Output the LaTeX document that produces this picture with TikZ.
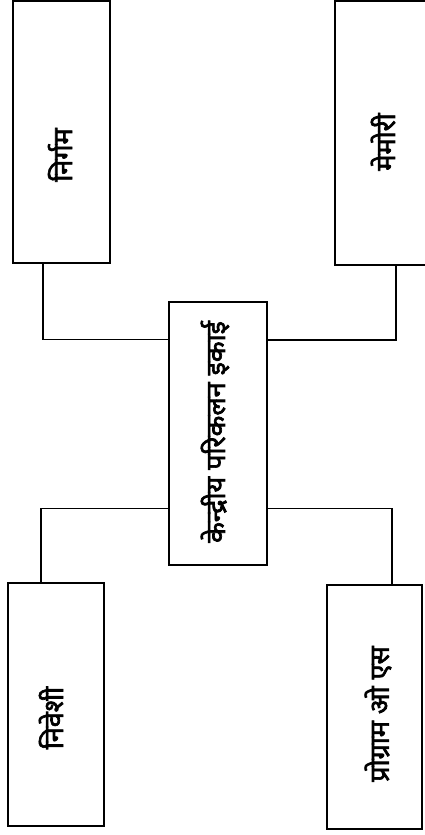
\documentclass[tikz,border=0pt]{standalone}
\usepackage{fontspec}
\newfontfamily\deva[Script=Devanagari,FakeBold=2.5]{Noto Sans}
\begin{document}
\begin{tikzpicture}[x=1pt,y=-1pt,
  box/.style={draw, line width=1.8pt, inner sep=0pt},
  lbl/.style={inner sep=0pt, font=\deva\fontsize{27}{30}\selectfont},
  wire/.style={line width=1.8pt}]
\useasboundingbox (0,0) rectangle (425,835);
\clip (0,0) rectangle (425,835);
% boxes
\node[box, minimum width=97pt, minimum height=262pt] (outbox) at (61.5,132) {};
\node[box, minimum width=105pt, minimum height=264pt] (membox) at (387.5,133) {};
\node[box, minimum width=96pt, minimum height=243pt] (inbox) at (56,704.5) {};
\node[box, minimum width=95pt, minimum height=244pt] (progbox) at (374.5,707) {};
\node[box, minimum width=98pt, minimum height=263pt] (cpu) at (218,433.5) {};
% labels
\node[lbl, rotate=90] (outlbl) at (60,155) {निर्गम};
\node[lbl, rotate=90] (memlbl) at (383,142) {मेमोरी};
\node[lbl, rotate=90] (inlbl) at (51,718) {निवेशी};
\node[lbl, rotate=90] (proglbl) at (378,714) {प्रोग्राम ओ एस};
\node[lbl, rotate=90] (cpulbl) at (215,432) {केन्द्रीय परिकलन इकाई};
% connectors
\draw[wire] ([xshift=31pt]outbox.south west) |- ([yshift=94pt]cpu.west);
\draw[wire] ([xshift=62pt]membox.south west) |- ([yshift=93.5pt]cpu.east);
\draw[wire] ([xshift=34pt]inbox.north west) |- ([yshift=-75pt]cpu.west);
\draw[wire] ([xshift=66pt]progbox.north west) |- ([yshift=-75pt]cpu.east);
\end{tikzpicture}
\end{document}
